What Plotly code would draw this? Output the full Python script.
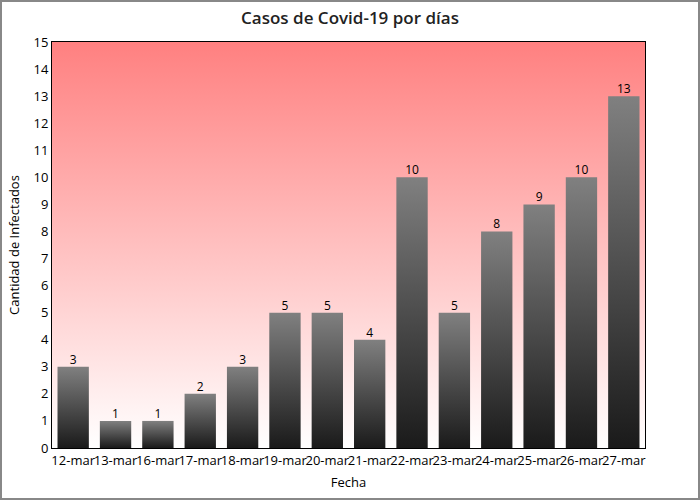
import plotly.graph_objects as go
import numpy as np

fechas = ["12-mar", "13-mar", "16-mar", "17-mar", "18-mar", "19-mar", "20-mar",
          "21-mar", "22-mar", "23-mar", "24-mar", "25-mar", "26-mar", "27-mar"]
casos = [3, 1, 1, 2, 3, 5, 5, 4, 10, 5, 8, 9, 10, 13]
y_ticks = list(range(0, 16))

FONT = "Open Sans"
bar_w = 0.74
pos = np.arange(len(fechas))

fig = go.Figure()

# plot-area gradient background (red top -> white bottom)
fig.add_trace(go.Scatter(
    x=[-0.5, -0.5, len(fechas) - 0.5, len(fechas) - 0.5, -0.5],
    y=[0, 15, 15, 0, 0], mode="lines", line=dict(width=0),
    fill="toself",
    fillgradient=dict(type="vertical", colorscale=[[0, "#ffffff"], [1, "#ff8080"]]),
    hoverinfo="skip", showlegend=False))

# bars with vertical gradient
for i, v in zip(pos, casos):
    fig.add_trace(go.Scatter(
        x=[i - bar_w / 2, i - bar_w / 2, i + bar_w / 2, i + bar_w / 2, i - bar_w / 2],
        y=[0, v, v, 0, 0], mode="lines", line=dict(width=0),
        fill="toself",
        fillgradient=dict(type="vertical", colorscale=[[0, "#1a1a1a"], [1, "#808080"]]),
        hoverinfo="skip", showlegend=False))

# value labels
fig.add_trace(go.Scatter(
    x=pos, y=casos, mode="text", text=[str(c) for c in casos],
    textposition="top center", textfont=dict(family=FONT, size=12, color="#000"),
    showlegend=False, hoverinfo="skip"))

W, H = 700, 500
l, r, t, b = 52, 55, 42, 52
pw, ph = W - l - r, H - t - b

fig.update_layout(
    width=W, height=H,
    margin=dict(l=l, r=r, t=t, b=b, autoexpand=False),
    paper_bgcolor="white", plot_bgcolor="white",
    title=dict(text="Casos de Covid-19 por días", x=0.5, xanchor="center",
               y=1 - 18 / H, yanchor="middle",
               font=dict(family=FONT, size=17, color="#222", weight=600)),
    font=dict(family=FONT, size=12, color="#000"),
    xaxis=dict(range=[-0.5, len(fechas) - 0.5], tickmode="array", tickvals=pos,
               ticktext=fechas, showgrid=False, zeroline=False, automargin=False,
               showline=True, linecolor="#000", linewidth=1, mirror=True,
               ticks="", tickangle=0, tickfont=dict(family=FONT, size=13, color="#000"),
               title=dict(text="Fecha", font=dict(family=FONT, size=13, color="#000"), standoff=10)),
    yaxis=dict(range=[0, 15], tickmode="array", tickvals=y_ticks, showgrid=False,
               zeroline=False, showline=True, linecolor="#000", linewidth=1, mirror=True,
               automargin=False,
               ticks="", tickfont=dict(family=FONT, size=13, color="#000"),
               title=dict(text="Cantidad de Infectados", font=dict(family=FONT, size=13, color="#000"), standoff=10)),
    shapes=[dict(type="rect", xref="paper", yref="paper",
                 x0=-(l - 1) / pw, x1=(W - l - 1) / pw,
                 y0=-(H - t - ph - 1) / ph, y1=(ph + t - 1) / ph,
                 line=dict(color="#888", width=2), fillcolor="rgba(0,0,0,0)", layer="above")],
)

fig.write_html("out.html", config={"displayModeBar": False},
               post_script="document.body.style.margin='0';")
